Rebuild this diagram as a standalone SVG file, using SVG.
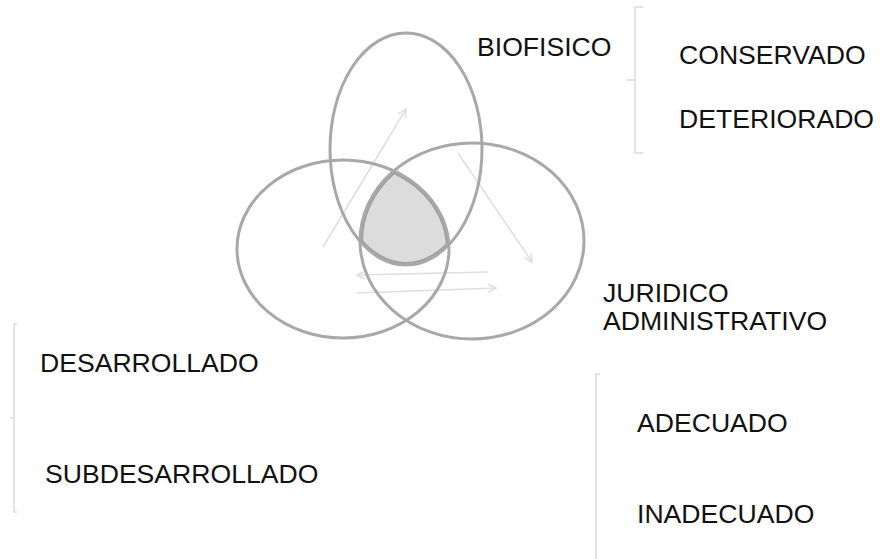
<svg xmlns="http://www.w3.org/2000/svg" width="882" height="559" viewBox="0 0 882 559">
<style>
.lbl{font-family:"Liberation Sans",Arial,sans-serif;font-size:26.6px;fill:#111}
.ring{fill:none;stroke:#a8a8a8;stroke-width:3}
.br{fill:none;stroke:#e4e4e4;stroke-width:2}
.arr{fill:none;stroke:#dedede;stroke-width:1.5;marker-end:url(#ah)}
</style>
<defs>
<marker id="ah" viewBox="0 0 10 10" refX="9" refY="5" markerWidth="10" markerHeight="10" markerUnits="userSpaceOnUse" orient="auto">
<path d="M1,1 L9,5 L1,9" fill="none" stroke="#dedede" stroke-width="1.5"/>
</marker>
<clipPath id="cL"><ellipse cx="343" cy="249" rx="106" ry="89"/></clipPath>
<clipPath id="cR"><ellipse cx="472" cy="241" rx="112" ry="98"/></clipPath>
<clipPath id="cT"><ellipse cx="406" cy="149" rx="76" ry="116"/></clipPath>
</defs>
<g id="connectors">
<line class="arr" x1="323" y1="247" x2="406" y2="109"/>
<line class="arr" x1="458" y1="153" x2="532" y2="262"/>
<line class="arr" x1="488" y1="272" x2="357" y2="275"/>
<line class="arr" x1="357" y1="293" x2="496" y2="288"/>
</g>
<g id="center">
<g clip-path="url(#cL)"><g clip-path="url(#cR)"><g clip-path="url(#cT)">
<rect x="340" y="150" width="140" height="130" fill="#dcdcdc"/>
<ellipse cx="343" cy="249" rx="106" ry="89" fill="none" stroke="#a0a0a0" stroke-width="6"/>
<ellipse cx="472" cy="241" rx="112" ry="98" fill="none" stroke="#a0a0a0" stroke-width="6"/>
<ellipse cx="406" cy="149" rx="76" ry="116" fill="none" stroke="#a0a0a0" stroke-width="6"/>
</g></g></g>
</g>
<g id="biofisico-circle"><ellipse class="ring" cx="406" cy="149" rx="76" ry="116"/></g>
<g id="social-circle"><ellipse class="ring" cx="343" cy="249" rx="106" ry="89"/></g>
<g id="juridico-circle"><ellipse class="ring" cx="472" cy="241" rx="112" ry="98"/></g>
<g id="biofisico"><text class="lbl" x="477" y="56">BIOFISICO</text></g>
<g id="biofisico-bracket">
<path class="br" d="M643,7 H635 V153 H643 M626,80 H635"/>
<text class="lbl" x="679" y="64">CONSERVADO</text>
<text class="lbl" x="679" y="128">DETERIORADO</text>
</g>
<g id="juridico"><text class="lbl" x="603" y="302">JURIDICO</text><text class="lbl" x="603" y="330">ADMINISTRATIVO</text></g>
<g id="juridico-bracket">
<path class="br" d="M600,374 H596 V559"/>
<text class="lbl" x="637" y="432">ADECUADO</text>
<text class="lbl" x="637" y="523">INADECUADO</text>
</g>
<g id="social-bracket">
<path class="br" d="M17,324 H14 V512 H17 M10,418 H14"/>
<text class="lbl" x="40" y="372">DESARROLLADO</text>
<text class="lbl" x="45" y="483">SUBDESARROLLADO</text>
</g>
</svg>
